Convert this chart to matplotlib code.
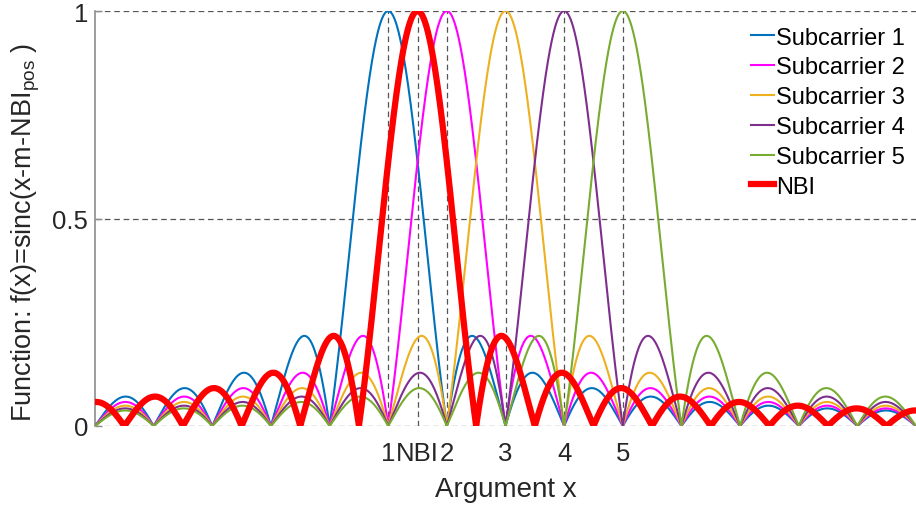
import numpy as np
import matplotlib
matplotlib.use("Agg")
import matplotlib.pyplot as plt

plt.rcParams['font.family'] = ['Liberation Sans', 'DejaVu Sans']
plt.rcParams['mathtext.fontset'] = 'custom'
plt.rcParams['mathtext.rm'] = 'Liberation Sans'
plt.rcParams['mathtext.it'] = 'Liberation Sans'

# Subcarrier centre frequencies and narrowband interferer position
subcarrier_centers = [1, 2, 3, 4, 5]
subcarrier_labels = ['Subcarrier 1', 'Subcarrier 2', 'Subcarrier 3',
                     'Subcarrier 4', 'Subcarrier 5']
subcarrier_colors = ['#0072BD', '#FF00FF', '#EDB120', '#7E2F8E', '#77AC30']
nbi_pos = 1.5

x_ticks = [1, 1.5, 2, 3, 4, 5]
x_tick_labels = ['1', 'NBI', '2', '3', '4', '5']
y_ticks = [0, 0.5, 1]
y_tick_labels = ['0', '0.5', '1']

x = np.linspace(-4, 10, 4001)

fig = plt.figure(figsize=(9.16, 5.06), dpi=100)
ax = fig.add_axes([95 / 916, 79 / 506, 821 / 916, 415 / 506])

for m, lab, col in zip(subcarrier_centers, subcarrier_labels, subcarrier_colors):
    ax.plot(x, np.abs(np.sinc(x - m)), color=col, lw=1.5, label=lab, zorder=3)
ax.plot(x, np.abs(np.sinc(x - nbi_pos)), color='#FF0000', lw=4.5, label='NBI',
        zorder=4)

ax.set_xlim(-4, 10)
ax.set_ylim(0, 1)
ax.set_xticks(x_ticks)
ax.set_xticklabels(x_tick_labels)
ax.set_yticks(y_ticks)
ax.set_yticklabels(y_tick_labels)

ax.grid(True, linestyle=(0, (4.5, 3)), color='#555555', lw=0.9, zorder=1)
for s in ['top', 'right', 'bottom']:
    ax.spines[s].set_visible(False)
ax.spines['left'].set_color('#8c8c8c')
ax.spines['left'].set_linewidth(1.2)

ax.tick_params(axis='y', direction='in', length=5, width=1.0, color='#8c8c8c',
               labelsize=18.5, labelcolor='#262626', pad=5)
ax.tick_params(axis='x', length=0, labelsize=18.5, labelcolor='#262626', pad=11)

ax.set_xlabel('Argument x', fontsize=20, color='#262626', labelpad=8)
ax.set_ylabel(r'Function: f(x)=sinc(x-m-NBI$_{\mathrm{pos}}$ )', fontsize=19.5,
              color='#262626')
ax.yaxis.set_label_coords(-0.064, 0.468)

leg = ax.legend(loc='upper right', frameon=False, fontsize=17,
                handlelength=0.95, handletextpad=0.1, labelspacing=0.33,
                borderaxespad=0.0, bbox_to_anchor=(0.998, 0.985))
for t in leg.get_texts():
    t.set_color('black')

fig.savefig('out.png', dpi=100)
